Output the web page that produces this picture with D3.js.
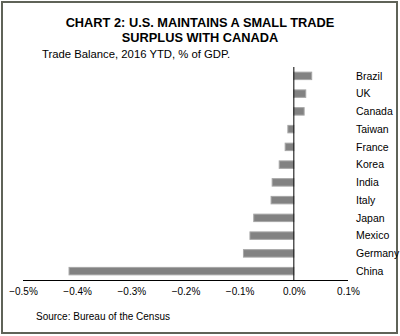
<!DOCTYPE html>
<html>
<head>
<meta charset="utf-8">
<script src="https://cdn.jsdelivr.net/npm/d3@7"></script>
<style>
  body { margin: 0; background: #fff; }
  text { font-family: "Liberation Sans", Arial, sans-serif; fill: #000; }
</style>
</head>
<body>
<div id="container"></div>
<script>
let w = 400;
let h = 336;

// trade balance, % of GDP
let countries = ["Brazil", "UK", "Canada", "Taiwan", "France", "Korea", "India", "Italy", "Japan", "Mexico", "Germany", "China"];
let balance = [0.033, 0.022, 0.019, -0.011, -0.016, -0.027, -0.040, -0.042, -0.074, -0.081, -0.093, -0.415];
let xTicks = [-0.5, -0.4, -0.3, -0.2, -0.1, 0.0, 0.1];

let data = countries.map((c, i) => ({name: c, value: balance[i]}));

let viz = d3.select("#container")
  .append("svg")
    .attr("width", w)
    .attr("height", h);

// frame
viz.append("rect")
  .attr("x", 2).attr("y", 2)
  .attr("width", 395).attr("height", 331)
  .attr("fill", "none")
  .attr("stroke", "#5f6358")
  .attr("stroke-width", 2);

// titles
viz.append("text")
  .attr("x", 200).attr("y", 26.5)
  .attr("text-anchor", "middle")
  .style("font-size", "12.8px").style("font-weight", "bold")
  .text("CHART 2: U.S. MAINTAINS A SMALL TRADE");
viz.append("text")
  .attr("x", 200).attr("y", 41.5)
  .attr("text-anchor", "middle")
  .style("font-size", "12.8px").style("font-weight", "bold")
  .text("SURPLUS WITH CANADA");
viz.append("text")
  .attr("x", 42).attr("y", 58)
  .style("font-size", "11.3px")
  .text("Trade Balance, 2016 YTD, % of GDP.");

let xScale = d3.scaleLinear().domain([-0.5, 0.1]).range([23, 348]);
let yScale = d3.scaleBand().domain(countries).range([67, 280]).paddingInner(0.58).paddingOuter(0.29);

// bars
viz.append("g").selectAll("rect")
  .data(data)
  .enter()
  .append("rect")
    .attr("x", d => xScale(Math.min(0, d.value)))
    .attr("y", d => yScale(d.name))
    .attr("width", d => Math.abs(xScale(d.value) - xScale(0)))
    .attr("height", yScale.bandwidth())
    .attr("fill", "#828282")
    .attr("stroke", "#a6a6a6")
    .attr("stroke-width", 1);

// x axis
let xAxis = d3.axisBottom(xScale)
  .tickValues(xTicks)
  .tickSize(0)
  .tickPadding(8)
  .tickFormat(d => d3.format(".1f")(d) + "%");
let xAxisGroup = viz.append("g").attr("class", "xaxis")
  .attr("transform", "translate(0," + 280 + ")")
  .call(xAxis);
xAxisGroup.select(".domain").attr("stroke", "#000").attr("d", "M" + xScale(-0.5) + ",0.5H" + xScale(0.1));
xAxisGroup.selectAll("text").style("font-size", "10px").style("font-family", "Liberation Sans, Arial, sans-serif");

// zero line
viz.append("line")
  .attr("x1", xScale(0)).attr("x2", xScale(0))
  .attr("y1", 67).attr("y2", 280)
  .attr("stroke", "#000").attr("stroke-width", 1);

// category labels
viz.append("g").selectAll("text")
  .data(countries)
  .enter()
  .append("text")
    .attr("x", 356)
    .attr("y", d => yScale(d) + yScale.bandwidth() / 2)
    .attr("dy", "0.35em")
    .style("font-size", "10.5px")
    .text(d => d);

viz.append("text")
  .attr("x", 36).attr("y", 320)
  .style("font-size", "10px")
  .text("Source: Bureau of the Census");
</script>
</body>
</html>
